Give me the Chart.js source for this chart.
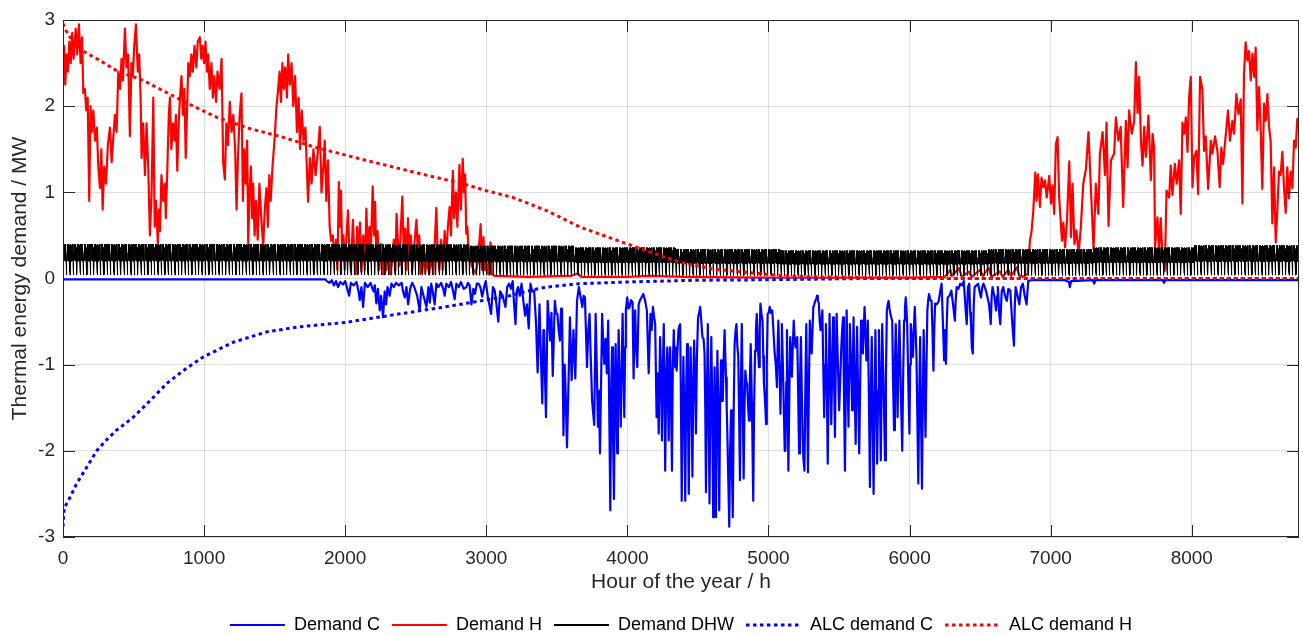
<!DOCTYPE html>
<html>
<head>
<meta charset="utf-8">
<script src="https://cdn.jsdelivr.net/npm/chart.js@4.4.1/dist/chart.umd.min.js"></script>
<style>
html, body { margin: 0; padding: 0; background: #fff; }
canvas { display: block; }
</style>
</head>
<body>
<canvas id="chart0" width="1303" height="635"></canvas>
<script>
// axis ticks
const xTicks = [0, 1000, 2000, 3000, 4000, 5000, 6000, 7000, 8000];
const yTicks = [-3, -2, -1, 0, 1, 2, 3];
const seriesNames = ['Demand C', 'Demand H', 'Demand DHW', 'ALC demand C', 'ALC demand H'];

// [hour, MW]
const demandH = [
[0,2.45],[8,2.7],[16,2.25],[25,2.6],[35,2.4],[45,2.75],[55,2.5],[65,2.85],[75,2.55],[90,2.9],[100,2.6],[113,2.95],[125,2.5],[135,2.8],[144,2.15],[155,2.2],[165,1.95],[175,2.1],[186,0.9],[195,2.0],
[205,1.7],[215,1.95],[228,1.6],[240,1.75],[250,1.3],[262,1.05],[272,1.5],[281,0.8],[292,1.3],[305,1.1],[318,1.55],[333,1.75],[345,1.35],[355,1.6],[368,1.9],[380,1.7],[392,2.4],[405,2.2],[415,2.55],[425,2.3],
[439,2.9],[450,2.45],[462,2.6],[474,1.65],[485,2.5],[495,2.35],[505,2.7],[517,2.95],[530,2.4],[540,2.6],[550,2.1],[557,1.4],[568,1.8],[581,1.2],[592,1.8],[604,1.3],[616,0.5],[628,1.0],[640,2.1],[650,0.6],
[660,0.9],[672,0.4],[680,0.8],[687,0.55],[698,1.2],[710,0.9],[722,1.1],[729,0.7],[740,1.3],[750,1.9],[758,2.1],[768,1.5],[780,1.8],[792,1.6],[800,1.9],[810,1.25],[820,1.8],[829,2.1],[840,2.35],[850,1.9],
[860,2.2],[870,1.4],[880,2.0],[888,2.5],[900,2.35],[910,2.6],[920,2.4],[932,2.7],[945,2.45],[955,2.75],[970,2.8],[980,2.55],[990,2.7],[1000,2.5],[1010,2.75],[1020,2.4],[1029,2.6],[1040,2.2],[1052,2.5],[1062,2.1],
[1072,2.35],[1085,2.05],[1095,2.4],[1110,2.2],[1124,2.55],[1135,1.35],[1147,1.15],[1158,1.8],[1170,1.55],[1182,2.05],[1195,1.7],[1207,1.9],[1220,1.5],[1230,0.8],[1240,1.4],[1252,1.9],[1265,2.15],[1275,0.9],[1285,1.5],[1295,1.1],
[1305,1.6],[1313,0.4],[1322,1.0],[1332,1.3],[1340,0.7],[1348,1.1],[1358,0.5],[1368,0.9],[1380,0.45],[1392,1.1],[1405,0.7],[1419,0.38],[1430,0.8],[1442,1.05],[1452,0.6],[1462,1.2],[1472,0.9],[1485,1.3],[1501,1.65],[1512,1.97],
[1525,2.2],[1535,2.4],[1545,2.05],[1555,2.5],[1565,2.2],[1575,2.45],[1587,2.1],[1596,2.6],[1608,2.25],[1620,2.5],[1632,2.0],[1645,2.35],[1658,1.7],[1670,2.1],[1680,1.5],[1692,1.95],[1705,1.6],[1718,1.75],[1737,0.89],[1750,1.4],
[1762,1.1],[1775,1.5],[1790,1.2],[1805,1.45],[1820,1.76],[1832,1.0],[1845,1.3],[1855,1.6],[1866,0.9],[1878,1.37],[1890,0.6],[1900,0.44],[1912,0.5],[1925,0.2],[1935,0.45],[1945,0.1],[1955,1.12],[1962,0.6],[1970,1.02],[1978,0.35],
[1988,0.5],[1998,0.1],[2008,0.45],[2020,0.79],[2030,0.3],[2040,0.1],[2055,0.68],[2065,0.25],[2075,0.05],[2085,0.6],[2095,0.2],[2105,0.65],[2115,0.08],[2128,0.5],[2140,0.1],[2150,0.81],[2160,0.3],[2172,0.6],[2180,0.2],[2195,1.07],
[2205,0.5],[2212,0.89],[2220,0.3],[2230,0.55],[2240,0.1],[2255,0.4],[2268,0.05],[2280,0.3],[2292,0.1],[2305,0.35],[2318,0.05],[2330,0.2],[2345,0.45],[2355,0.1],[2364,0.75],[2375,0.4],[2385,0.15],[2395,0.6],[2405,0.95],[2415,0.3],
[2425,0.58],[2435,0.1],[2445,0.7],[2455,0.3],[2465,0.5],[2475,0.1],[2490,0.4],[2505,0.68],[2515,0.3],[2525,0.5],[2535,0.05],[2550,0.3],[2565,0.06],[2580,0.2],[2595,0.05],[2610,0.25],[2625,0.05],[2646,0.82],[2655,0.3],[2668,0.1],
[2680,0.45],[2692,0.1],[2705,0.55],[2715,0.25],[2728,0.6],[2740,0.83],[2750,0.5],[2763,1.25],[2772,0.7],[2785,1.0],[2795,0.6],[2810,1.32],[2820,0.8],[2833,1.39],[2842,1.0],[2850,1.21],[2858,0.52],[2866,0.6],[2875,0.29],[2885,0.35],
[2895,0.15],[2910,0.1],[2925,0.06],[2940,0.2],[2960,0.63],[2970,0.1],[2980,0.48],[2990,0.1],[3000,0.2],[3015,0.05],[3030,0.42],[3040,0.05],[3060,0.03],[3300,0.02],[3600,0.03],[3650,0.06],[3670,0.02],[4000,0.02],[4150,0.03],[4400,0.02],
[5000,0.01],[6000,0.01],[6250,0.02],[6290,0.1],[6300,0.03],[6350,0.12],[6370,0.02],[6420,0.08],[6440,0.02],[6500,0.1],[6520,0.03],[6560,0.12],[6580,0.02],[6640,0.08],[6660,0.02],[6700,0.1],[6720,0.03],[6760,0.13],[6780,0.03],[6800,0.02],
[6837,0.05],[6853,0.44],[6865,0.55],[6877,0.79],[6891,1.23],[6900,0.9],[6910,1.21],[6924,0.83],[6935,1.17],[6948,1.06],[6960,1.14],[6972,0.94],[6990,1.19],[7002,0.87],[7013,1.08],[7025,0.75],[7037,1.56],[7049,1.64],[7060,0.95],[7080,0.44],
[7090,0.65],[7102,0.36],[7115,0.65],[7132,1.36],[7144,0.48],[7155,1.1],[7168,0.4],[7182,0.56],[7198,0.29],[7214,0.6],[7231,1.1],[7250,1.27],[7268,1.7],[7285,1.05],[7304,0.34],[7320,1.1],[7338,0.75],[7349,1.45],[7368,1.7],[7385,1.2],
[7396,1.81],[7410,0.61],[7427,1.37],[7450,1.45],[7462,1.87],[7480,1.6],[7496,1.76],[7514,0.83],[7533,1.83],[7545,1.29],[7556,1.95],[7575,1.68],[7592,1.83],[7604,2.51],[7616,1.92],[7627,2.34],[7640,1.6],[7651,1.31],[7663,1.76],[7675,1.41],
[7693,1.89],[7710,1.14],[7722,1.68],[7733,1.52],[7740,0.36],[7757,0.71],[7768,0.32],[7780,0.7],[7792,0.28],[7809,0.09],[7821,1.02],[7840,0.94],[7851,1.31],[7863,0.97],[7880,1.33],[7893,1.1],[7910,1.37],[7922,0.75],[7934,1.81],[7946,1.68],
[7958,1.87],[7970,1.47],[7981,2.1],[7993,2.34],[8005,1.06],[8017,1.41],[8033,1.48],[8045,0.98],[8059,2.34],[8075,2.2],[8087,1.48],[8099,1.65],[8116,1.04],[8135,1.6],[8146,1.45],[8165,1.65],[8182,1.48],[8198,1.06],[8210,1.52],[8222,1.33],
[8257,1.95],[8271,1.6],[8288,1.83],[8300,1.68],[8316,2.14],[8330,1.91],[8347,2.08],[8359,0.87],[8370,2.37],[8382,2.74],[8394,2.53],[8406,2.64],[8418,2.3],[8430,2.61],[8442,2.34],[8453,2.68],[8465,1.72],[8477,2.22],[8488,1.75],[8500,1.04],
[8512,2.03],[8524,1.83],[8536,2.14],[8548,1.75],[8559,1.6],[8571,0.64],[8583,1.29],[8595,0.42],[8607,0.8],[8618,1.24],[8630,1.2],[8642,1.47],[8654,1.05],[8666,0.76],[8677,1.29],[8689,0.93],[8701,1.24],[8713,1.05],[8725,1.6],[8737,1.52],
[8748,1.85],[8760,1.86]
];

const demandC = [
[0,-0.01],[1860,-0.01],[1870,-0.03],[1890,-0.05],[1905,-0.02],[1920,-0.08],[1935,-0.03],[1950,-0.1],[1965,-0.04],[1985,-0.07],[2000,-0.03],[2015,-0.12],[2028,-0.2],[2040,-0.05],[2060,-0.08],[2080,-0.04],[2095,-0.15],[2103,-0.25],[2115,-0.1],[2127,-0.33],
[2140,-0.05],[2160,-0.1],[2180,-0.05],[2200,-0.15],[2210,-0.08],[2221,-0.29],[2232,-0.12],[2245,-0.37],[2255,-0.2],[2268,-0.45],[2280,-0.15],[2290,-0.3],[2300,-0.1],[2315,-0.2],[2328,-0.06],[2345,-0.1],[2360,-0.05],[2380,-0.08],[2400,-0.05],[2410,-0.15],
[2422,-0.22],[2434,-0.1],[2446,-0.3],[2460,-0.12],[2475,-0.05],[2490,-0.1],[2510,-0.2],[2528,-0.37],[2540,-0.1],[2555,-0.2],[2576,-0.33],[2590,-0.1],[2600,-0.28],[2610,-0.06],[2620,-0.15],[2634,-0.3],[2646,-0.06],[2660,-0.1],[2680,-0.05],[2695,-0.12],
[2705,-0.2],[2717,-0.06],[2735,-0.1],[2750,-0.04],[2765,-0.15],[2776,-0.24],[2788,-0.06],[2805,-0.1],[2820,-0.04],[2840,-0.12],[2859,-0.1],[2870,-0.05],[2882,-0.08],[2895,-0.3],[2908,-0.12],[2920,-0.18],[2933,-0.06],[2945,-0.06],[2958,-0.1],[2971,-0.21],
[2985,-0.1],[2996,-0.03],[3010,-0.2],[3034,-0.41],[3047,-0.1],[3060,-0.14],[3072,-0.3],[3085,-0.5],[3098,-0.15],[3110,-0.18],[3123,-0.25],[3136,-0.33],[3148,-0.1],[3161,-0.06],[3175,-0.12],[3187,-0.03],[3197,-0.3],[3207,-0.53],[3216,-0.15],[3225,-0.1],
[3238,-0.2],[3250,-0.06],[3262,-0.25],[3275,-0.43],[3288,-0.3],[3301,-0.58],[3313,-0.06],[3326,-0.15],[3339,-0.14],[3352,-0.5],[3364,-1.09],[3377,-0.3],[3387,-0.9],[3397,-1.45],[3405,-0.6],[3410,-0.6],[3417,-1.2],[3423,-1.61],[3435,-0.26],[3445,-0.5],
[3453,-0.72],[3462,-0.4],[3471,-1.13],[3486,-0.26],[3495,-0.4],[3504,-0.41],[3513,-0.6],[3522,-0.72],[3530,-0.35],[3537,-0.35],[3547,-1.82],[3556,-1.0],[3562,-1.3],[3572,-1.96],[3582,-1.26],[3593,-0.45],[3605,-1.18],[3618,-0.6],[3631,-1.16],[3643,-0.26],
[3656,-0.1],[3669,-0.22],[3681,-0.33],[3690,-0.2],[3699,-0.22],[3714,-1.03],[3723,-0.6],[3732,-0.41],[3740,-0.9],[3750,-1.42],[3765,-1.7],[3775,-0.41],[3783,-1.0],[3791,-1.72],[3798,-1.3],[3806,-2.03],[3821,-0.41],[3830,-0.8],[3836,-0.99],[3845,-0.7],
[3854,-1.1],[3864,-0.49],[3872,-1.6],[3879,-2.69],[3886,-1.2],[3892,-0.8],[3898,-1.8],[3905,-2.56],[3911,-1.3],[3917,-0.76],[3922,-1.5],[3928,-2.03],[3933,-1.2],[3938,-0.6],[3945,-1.2],[3953,-1.72],[3960,-1.0],[3966,-0.41],[3972,-1.0],[3978,-1.61],
[3984,-0.8],[3989,-0.37],[3999,-0.22],[4008,-0.35],[4016,-0.33],[4026,-0.25],[4037,-0.28],[4044,-1.16],[4050,-0.6],[4055,-0.37],[4062,-0.8],[4070,-1.03],[4080,-0.3],[4090,-0.25],[4100,-0.22],[4113,-0.18],[4126,-0.26],[4138,-0.37],[4151,-1.1],[4158,-0.7],
[4164,-0.41],[4172,-0.6],[4181,-0.33],[4190,-0.45],[4197,-0.53],[4207,-1.61],[4215,-1.1],[4222,-1.8],[4232,-0.68],[4240,-1.2],[4245,-1.88],[4252,-1.0],[4258,-0.53],[4263,-1.3],[4268,-2.23],[4276,-1.1],[4283,-0.8],[4288,-1.4],[4293,-1.88],[4298,-1.0],
[4303,-0.8],[4310,-1.5],[4316,-2.23],[4322,-1.0],[4329,-0.6],[4334,-0.9],[4339,-1.03],[4344,-0.8],[4349,-1.07],[4356,-0.8],[4362,-0.6],[4368,-0.55],[4374,-0.53],[4380,-1.5],[4385,-2.58],[4391,-1.6],[4397,-0.91],[4404,-1.6],[4410,-2.58],[4416,-1.4],
[4423,-0.76],[4429,-1.5],[4435,-2.5],[4441,-1.4],[4448,-0.8],[4455,-1.5],[4461,-2.3],[4467,-1.2],[4473,-0.72],[4480,-1.2],[4486,-1.8],[4493,-0.9],[4501,-0.45],[4508,-0.4],[4516,-0.33],[4524,-0.5],[4532,-0.68],[4540,-0.7],[4547,-0.87],[4552,-1.5],
[4557,-2.48],[4563,-1.5],[4570,-0.53],[4576,-1.5],[4582,-2.61],[4588,-1.5],[4595,-0.68],[4602,-1.6],[4608,-2.77],[4613,-1.7],[4618,-1.03],[4623,-1.8],[4628,-2.77],[4633,-1.6],[4638,-0.84],[4645,-1.6],[4651,-2.69],[4657,-1.5],[4664,-0.95],[4670,-1.42],
[4676,-1.42],[4683,-0.9],[4689,-0.6],[4694,-0.9],[4699,-1.15],[4704,-1.5],[4709,-1.84],[4716,-2.4],[4722,-2.88],[4728,-2.0],[4735,-1.53],[4741,-2.2],[4747,-2.77],[4753,-1.6],[4760,-0.76],[4767,-0.6],[4773,-0.53],[4780,-0.8],[4786,-0.91],[4792,-1.6],
[4798,-2.34],[4804,-1.3],[4811,-0.53],[4818,-1.5],[4824,-2.32],[4830,-1.5],[4836,-1.07],[4843,-1.2],[4849,-1.22],[4856,-1.5],[4862,-1.65],[4868,-1.2],[4874,-0.76],[4883,-1.5],[4892,-2.58],[4898,-1.5],[4905,-0.84],[4911,-0.6],[4917,-0.41],[4925,-0.8],
[4933,-1.03],[4938,-0.6],[4943,-0.29],[4950,-0.4],[4958,-0.49],[4963,-0.9],[4968,-1.22],[4975,-1.4],[4983,-1.69],[4988,-1.0],[4994,-0.41],[5001,-0.4],[5009,-0.33],[5018,-0.4],[5027,-0.37],[5035,-0.6],[5044,-0.87],[5052,-1.0],[5060,-1.26],[5065,-0.8],
[5070,-0.49],[5078,-1.0],[5085,-1.57],[5090,-1.0],[5095,-0.53],[5102,-1.0],[5110,-1.61],[5115,-2.0],[5120,-2.0],[5126,-1.2],[5131,-0.6],[5136,-1.4],[5141,-2.23],[5148,-1.3],[5154,-0.68],[5160,-0.9],[5166,-1.14],[5172,-0.8],[5179,-0.49],[5185,-0.7],
[5192,-0.8],[5198,-0.7],[5204,-0.68],[5210,-1.3],[5217,-2.03],[5223,-1.2],[5230,-0.68],[5236,-1.3],[5242,-1.84],[5248,-2.1],[5255,-2.23],[5261,-1.3],[5268,-0.53],[5274,-1.4],[5280,-2.25],[5287,-1.2],[5293,-0.49],[5300,-0.7],[5306,-0.87],[5312,-0.6],
[5318,-0.33],[5325,-0.3],[5331,-0.26],[5338,-0.24],[5344,-0.2],[5350,-0.25],[5357,-0.29],[5363,-0.5],[5369,-0.6],[5375,-0.5],[5382,-0.37],[5388,-1.0],[5395,-1.61],[5401,-1.0],[5407,-0.53],[5414,-1.3],[5420,-2.15],[5427,-1.2],[5433,-0.41],[5439,-1.0],
[5445,-1.69],[5452,-1.0],[5458,-0.45],[5464,-1.1],[5471,-1.84],[5477,-1.0],[5483,-0.41],[5492,-1.0],[5501,-1.53],[5508,-1.2],[5516,-0.8],[5522,-0.6],[5529,-0.45],[5535,-1.3],[5542,-2.23],[5548,-1.3],[5554,-0.37],[5560,-1.0],[5567,-1.72],[5572,-1.0],
[5577,-0.53],[5585,-1.0],[5593,-1.53],[5598,-1.0],[5603,-0.45],[5610,-1.2],[5618,-1.92],[5623,-1.1],[5628,-0.56],[5635,-1.3],[5643,-2.03],[5650,-1.2],[5656,-0.49],[5662,-0.7],[5669,-0.87],[5675,-0.6],[5681,-0.33],[5688,-0.6],[5694,-0.95],[5699,-0.7],
[5704,-0.49],[5712,-1.4],[5719,-2.42],[5725,-1.4],[5732,-0.68],[5738,-1.6],[5745,-2.5],[5751,-1.5],[5758,-0.6],[5764,-1.4],[5770,-2.15],[5777,-1.3],[5783,-0.6],[5790,-1.4],[5796,-2.11],[5801,-1.3],[5806,-0.53],[5816,-1.3],[5826,-2.11],[5832,-1.2],
[5839,-0.37],[5845,-0.3],[5851,-0.26],[5858,-0.35],[5864,-0.41],[5870,-0.45],[5877,-0.49],[5883,-1.2],[5890,-1.76],[5896,-1.0],[5902,-0.53],[5908,-1.0],[5915,-1.61],[5921,-1.0],[5928,-0.49],[5938,-1.3],[5948,-2.0],[5954,-1.2],[5961,-0.49],[5967,-0.35],
[5973,-0.22],[5978,-0.35],[5983,-0.53],[5991,-1.2],[5999,-1.8],[6004,-1.0],[6009,-0.53],[6016,-0.7],[6024,-0.91],[6030,-0.6],[6037,-0.33],[6043,-0.6],[6049,-0.91],[6055,-1.6],[6062,-2.38],[6068,-1.4],[6075,-0.68],[6081,-1.6],[6088,-2.44],[6094,-1.4],
[6100,-0.6],[6106,-1.2],[6113,-1.84],[6120,-1.0],[6126,-0.37],[6132,-0.25],[6138,-0.18],[6147,-0.25],[6156,-0.26],[6162,-0.6],[6169,-1.07],[6175,-0.6],[6181,-0.29],[6194,-0.3],[6207,-0.26],[6217,-0.15],[6227,-0.06],[6236,-0.5],[6245,-0.95],[6252,-0.6],
[6258,-0.99],[6264,-0.5],[6270,-0.22],[6283,-0.2],[6296,-0.14],[6308,-0.3],[6321,-0.49],[6327,-0.25],[6334,-0.1],[6346,-0.12],[6359,-0.06],[6371,-0.08],[6384,-0.03],[6395,-0.3],[6405,-0.53],[6414,-0.1],[6423,-0.06],[6430,-0.4],[6435,-0.5],[6441,-0.8],
[6448,-0.87],[6455,-0.3],[6461,-0.1],[6474,-0.08],[6486,-0.06],[6496,-0.15],[6506,-0.22],[6515,-0.1],[6524,-0.06],[6543,-0.15],[6562,-0.29],[6569,-0.4],[6575,-0.53],[6582,-0.2],[6588,-0.1],[6600,-0.2],[6613,-0.37],[6620,-0.2],[6626,-0.1],[6635,-0.4],
[6643,-0.53],[6653,-0.15],[6664,-0.1],[6676,-0.2],[6689,-0.26],[6700,-0.12],[6714,-0.14],[6727,-0.5],[6740,-0.78],[6746,-0.3],[6752,-0.1],[6765,-0.2],[6778,-0.3],[6790,-0.1],[6803,-0.06],[6816,-0.2],[6829,-0.3],[6841,-0.03],[6860,-0.02],[7100,-0.02],
[7130,-0.04],[7136,-0.1],[7145,-0.03],[7300,-0.02],[7308,-0.06],[7318,-0.02],[7795,-0.02],[7803,-0.05],[7812,-0.02],[8760,-0.02]
];

// domestic hot water: one day read hour by hour, and the daily peak per month
const dhwDay = [0.22, 0.08, 0.04, 0.05, 0.20, 0.30, 0.40, 0.34, 0.40, 0.22, 0.38, 0.21,
                0.39, 0.24, 0.37, 0.20, 0.38, 0.40, 0.26, 0.39, 0.21, 0.36, 0.23, 0.20];
const dhwMonthPeak = [0.40, 0.40, 0.40, 0.395, 0.38, 0.36, 0.34, 0.325, 0.325, 0.34, 0.36, 0.385];
const monthStart = [0, 744, 1416, 2160, 2880, 3624, 4344, 5088, 5832, 6552, 7296, 8016];

const alcC = [
[0,-2.88],[5,-2.73],[12,-2.65],[38,-2.58],[70,-2.47],[97,-2.38],[168,-2.19],[239,-2.0],[310,-1.87],[380,-1.76],[498,-1.61],[616,-1.42],[734,-1.22],[852,-1.07],[994,-0.91],[1206,-0.74],[1442,-0.62],[1678,-0.56],[2002,-0.51],[2387,-0.41],
[2670,-0.34],[2906,-0.275],[3165,-0.2],[3307,-0.14],[3425,-0.1],[3661,-0.06],[4015,-0.04],[4487,-0.02],[4959,-0.015],[5667,0],[8760,0]
];
const alcH = [
[0,2.96],[20,2.88],[50,2.8],[142,2.64],[262,2.53],[382,2.41],[567,2.3],[850,2.06],[1090,1.87],[1322,1.74],[1558,1.64],[1794,1.52],[2150,1.37],[2599,1.19],[2835,1.1],[3000,1.02],[3189,0.94],[3425,0.79],[3661,0.6],[3897,0.46],
[4133,0.325],[4369,0.19],[4605,0.11],[4841,0.073],[5077,0.035],[5313,0.02],[5667,0.01],[6500,0],[8760,0]
];

const fontFamily = '"Liberation Sans", Arial, Helvetica, sans-serif';
const axisColor = '#262626';
const gridColor = 'rgba(38,38,38,0.15)';

function toPoints(pairs) {
    return pairs.map(p => ({ x: p[0], y: p[1] }));
}

// repeat the read day over the year, scaled by the month's peak
function dhwPoints() {
    let pts = [];
    for (let h = 0; h <= 8760; h++) {
        let m = 0;
        while (m < 11 && h >= monthStart[m + 1]) m++;
        pts.push({ x: h, y: dhwDay[h % 24] * dhwMonthPeak[m] / dhwMonthPeak[0] });
    }
    return pts;
}

// legend height fixed so it sits like the original
const legendFit = {
    id: 'legendFit',
    beforeInit(chart) {
        const fit = chart.legend.fit;
        chart.legend.fit = function () {
            fit.call(this);
            this.height = 31;
        };
    }
};

// box round the axes and the inward ticks
const axesBox = {
    id: 'axesBox',
    afterDatasetsDraw(chart) {
        const { ctx, chartArea: a, scales: { x, y } } = chart;
        const len = 12;
        ctx.save();
        ctx.strokeStyle = axisColor;
        ctx.lineWidth = 1;
        ctx.beginPath();
        xTicks.forEach(t => {
            const px = Math.round(x.getPixelForValue(t)) + 0.5;
            ctx.moveTo(px, a.bottom); ctx.lineTo(px, a.bottom - len);
            ctx.moveTo(px, a.top); ctx.lineTo(px, a.top + len);
        });
        yTicks.forEach(t => {
            const py = Math.round(y.getPixelForValue(t)) + 0.5;
            ctx.moveTo(a.left, py); ctx.lineTo(a.left + len, py);
            ctx.moveTo(a.right, py); ctx.lineTo(a.right - len, py);
        });
        ctx.stroke();
        ctx.strokeRect(Math.round(a.left) + 0.5, Math.round(a.top) + 0.5,
            Math.round(a.right - a.left) - 1, Math.round(a.bottom - a.top) - 1);
        ctx.restore();
    }
};

let chart0 = document.getElementById('chart0');

const datasets = [
    { label: seriesNames[0], data: toPoints(demandC), borderColor: '#0000ff', borderWidth: 2.2, legendWidth: 2, order: 5 },
    { label: seriesNames[1], data: toPoints(demandH), borderColor: '#ff0000', borderWidth: 2.2, legendWidth: 2, order: 4 },
    { label: seriesNames[2], data: dhwPoints(), borderColor: '#000000', borderWidth: 1, legendWidth: 2, order: 3 },
    { label: seriesNames[3], data: toPoints(alcC), borderColor: '#0000ff', borderWidth: 3, legendWidth: 3, borderDash: [3.5, 3.5], order: 2 },
    { label: seriesNames[4], data: toPoints(alcH), borderColor: '#ff0000', borderWidth: 3, legendWidth: 3, borderDash: [3.5, 3.5], order: 1 }
];
datasets.forEach(d => Object.assign(d, {
    backgroundColor: d.borderColor, pointRadius: 0, pointStyle: 'line', fill: false, borderJoinStyle: 'round'
}));

new Chart(chart0, {
    type: 'line',
    data: { datasets: datasets },
    options: {
        responsive: false,
        animation: false,
        parsing: false,
        normalized: true,
        layout: { padding: { top: 20, right: 4, left: 0, bottom: 0 } },
        elements: { line: { tension: 0 } },
        plugins: {
            tooltip: { enabled: false },
            legend: {
                position: 'bottom',
                fullSize: false,
                labels: {
                    usePointStyle: true,
                    pointStyleWidth: 55,
                    boxWidth: 55,
                    padding: 12,
                    color: '#000',
                    font: { family: fontFamily, size: 18 },
                    generateLabels: chart => chart.data.datasets.map((d, i) => ({
                        text: d.label,
                        datasetIndex: i,
                        fillStyle: d.borderColor,
                        strokeStyle: d.borderColor,
                        fontColor: '#000',
                        lineWidth: d.legendWidth,
                        lineDash: d.borderDash || [],
                        lineCap: 'butt',
                        pointStyle: 'line',
                        hidden: false
                    }))
                }
            }
        },
        scales: {
            x: {
                type: 'linear',
                min: 0,
                max: 8760,
                afterBuildTicks: s => { s.ticks = xTicks.map(v => ({ value: v })); },
                afterFit: s => { s.height = 67; },
                border: { display: false },
                grid: { color: gridColor, lineWidth: 1, drawTicks: false },
                ticks: {
                    padding: 10,
                    color: axisColor,
                    maxRotation: 0,
                    autoSkip: false,
                    font: { family: fontFamily, size: 19 },
                    callback: v => String(v)
                },
                title: {
                    display: true,
                    text: 'Hour of the year / h',
                    color: axisColor,
                    font: { family: fontFamily, size: 21 },
                    padding: { top: 0, bottom: 9 }
                }
            },
            y: {
                min: -3,
                max: 3,
                afterBuildTicks: s => { s.ticks = yTicks.map(v => ({ value: v })); },
                afterFit: s => { s.width = 63; },
                border: { display: false },
                grid: { color: gridColor, lineWidth: 1, drawTicks: false },
                ticks: {
                    padding: 8,
                    color: axisColor,
                    font: { family: fontFamily, size: 19 },
                    callback: v => String(v)
                },
                title: {
                    display: true,
                    text: 'Thermal energy demand / MW',
                    color: axisColor,
                    font: { family: fontFamily, size: 21 },
                    padding: { top: 8, bottom: 0 }
                }
            }
        }
    },
    plugins: [legendFit, axesBox]
});
</script>
</body>
</html>
